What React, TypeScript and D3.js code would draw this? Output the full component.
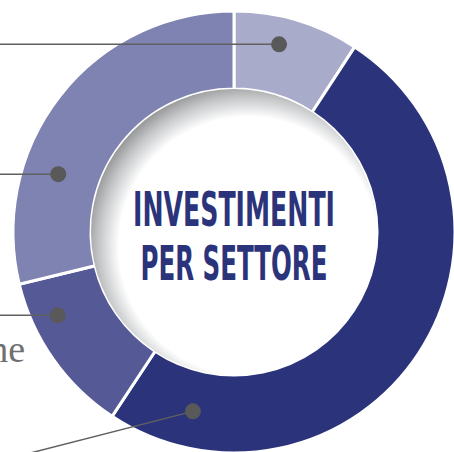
import React, { useEffect, useLayoutEffect, useRef, useState } from "react";
import * as d3 from "d3";

// sector shares (percent), clockwise from 12 o'clock
const sectors = ["Sector A", "Sector B", "Sector C", "Sector D"];
const shares = [9.2, 50.1, 11.9, 28.8];
const colors = ["#a9abcb", "#2b337b", "#555a96", "#7e83b1"];
// where each leader dot sits inside its slice (deg, radius)
const dotAngles = [13.5, 192.9, 244.7, 288.2];
const dotRadii = [193, 184, 195, 185];
const titleLines = ["INVESTIMENTI", "PER SETTORE"];
const titleWidths = [202, 187];
const cutLabel = "ne";

const W = 454;
const H = 452;
const cx = 234;
const cy = 232;
const outerR = 221;
const innerR = 143;

function FitText({ text, y, width }: { text: string; y: number; width: number }) {
  const ref = useRef<SVGTextElement>(null);
  const [sx, setSx] = useState(1);
  useLayoutEffect(() => {
    if (ref.current) {
      const w = ref.current.getBBox().width;
      if (w > 0) setSx(width / w);
    }
  }, [text, width]);
  return (
    <g transform={`translate(0,${y}) scale(${sx},1)`}>
      <text
        ref={ref}
        x={0}
        y={0}
        textAnchor="middle"
        fontFamily="'DejaVu Sans Condensed', 'DejaVu Sans', sans-serif"
        fontWeight="bold"
        fontSize={48}
        fill="#2b337b"
      >
        {text}
      </text>
    </g>
  );
}

export default function App() {
  useEffect(() => {
    document.body.style.margin = "0";
  }, []);

  const pie = d3.pie<number>().sort(null).value((d) => d);
  const arcs = pie(shares);
  const arc = d3.arc<d3.PieArcDatum<number>>().innerRadius(innerR).outerRadius(outerR);
  const rad = d3.scaleLinear().domain([0, 360]).range([0, 2 * Math.PI]);

  const dots = dotAngles.map((a, i) => {
    const t = rad(a);
    return [cx + dotRadii[i] * Math.sin(t), cy - dotRadii[i] * Math.cos(t)];
  });

  const leader = d3.line();

  return (
    <svg width={W} height={H} style={{ display: "block" }}>
      <defs>
        <radialGradient id="hole" cx="0.55" cy="0.55" r="0.58">
          <stop offset="0.78" stopColor="#ffffff" />
          <stop offset="0.9" stopColor="#c4c6c8" />
          <stop offset="1" stopColor="#8c8e90" />
        </radialGradient>
      </defs>
      <g transform={`translate(${cx},${cy})`}>
        {arcs.map((a, i) => (
          <path key={sectors[i]} d={arc(a) || ""} fill={colors[i]} stroke="#fff" strokeWidth={3} />
        ))}
        <circle r={innerR} fill="url(#hole)" />
        {titleLines.map((t, i) => (
          <FitText key={t} text={t} y={i === 0 ? -6 : 48} width={titleWidths[i]} />
        ))}
      </g>
      {dots.map((p, i) => {
        const end: [number, number] =
          i === 1 ? [-20, p[1] + (p[0] + 20) * 0.256] : [-20, p[1]];
        return (
          <g key={i}>
            <path d={leader([[p[0], p[1]], end]) || ""} stroke="#606060" strokeWidth={1.5} fill="none" />
            <circle cx={p[0]} cy={p[1]} r={8} fill="#595959" />
          </g>
        );
      })}
      <text
        x={25}
        y={362}
        textAnchor="end"
        fontFamily="'Liberation Serif', serif"
        fontSize={38}
        fill="#707070"
      >
        {cutLabel}
      </text>
    </svg>
  );
}
